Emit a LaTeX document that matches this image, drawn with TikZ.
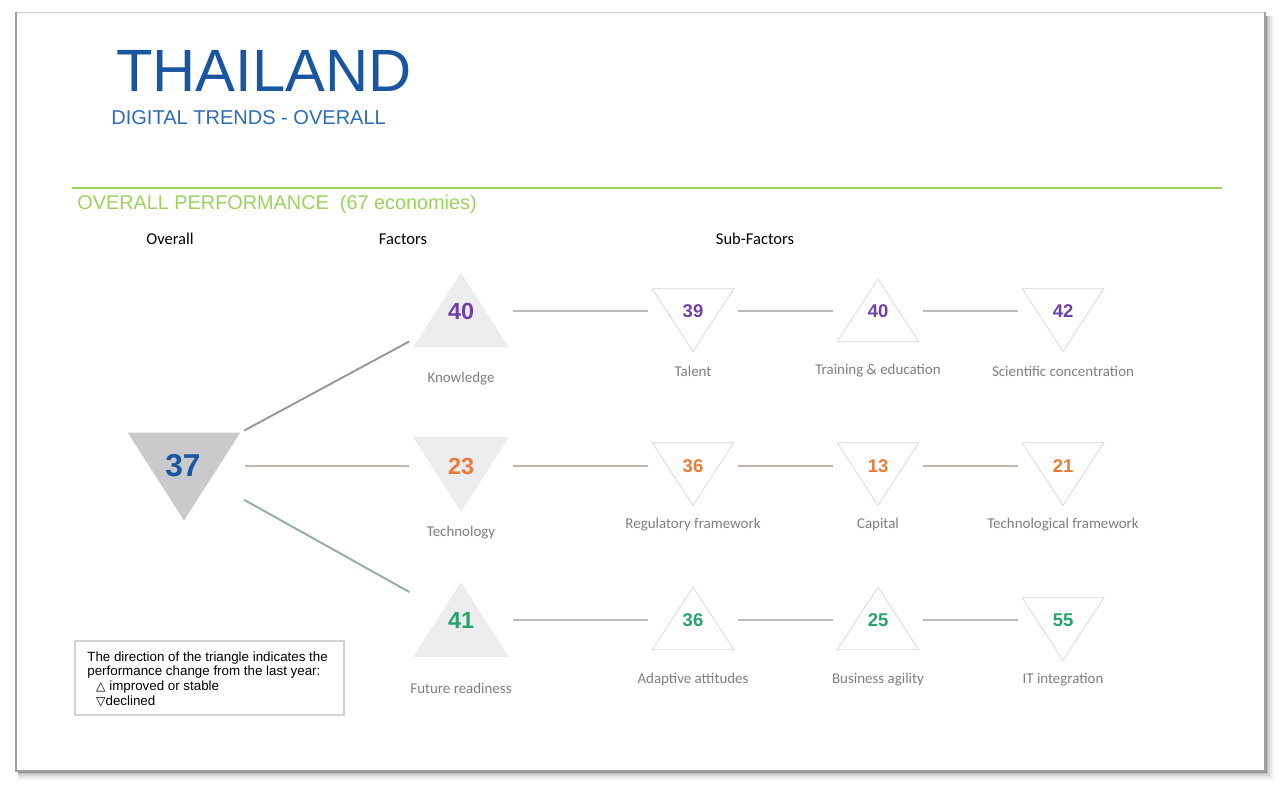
\documentclass[tikz,border=0pt]{standalone}
\usepackage{fontspec}
\setmainfont{Liberation Sans}
\newfontfamily\calfont{Carlito}
\newfontfamily\symfont{DejaVu Sans}
\usepackage{xcolor}
\usepackage{tikz}
\usetikzlibrary{calc}

\definecolor{titleblue}{HTML}{1A56A0}
\definecolor{subblue}{HTML}{2E6CB5}
\definecolor{perfgreen}{HTML}{9CD35E}
\definecolor{knowpurple}{HTML}{7040A8}
\definecolor{techorange}{HTML}{EC7A36}
\definecolor{futgreen}{HTML}{27A36C}
\definecolor{ovfill}{HTML}{CACACC}
\definecolor{facfill}{HTML}{EDEDEF}
\definecolor{subedge}{HTML}{D6D6D6}
\definecolor{lblgray}{HTML}{7F7F7F}
\definecolor{linegray}{HTML}{BDBDBD}
\definecolor{linebrown}{HTML}{C6B3AB}

% triangles drawn inside a named (invisible) box
\newcommand{\uptri}[2]{\path[#2] (#1.north) -- (#1.south east) -- (#1.south west) -- cycle;}
\newcommand{\dntri}[2]{\path[#2] (#1.north west) -- (#1.north east) -- (#1.south) -- cycle;}

\begin{document}
\begin{tikzpicture}[x=0.02cm, y=-0.02cm,
  ovbox/.style={minimum width=2.24cm, minimum height=1.74cm, inner sep=0pt},
  facbox/.style={minimum width=1.9cm, minimum height=1.48cm, inner sep=0pt},
  subbox/.style={minimum width=1.62cm, minimum height=1.24cm, inner sep=0pt},
  bignum/.style={font=\fontsize{18}{20}\selectfont\bfseries, inner sep=0pt},
  facnum/.style={font=\fontsize{13.3}{15}\selectfont\bfseries, inner sep=0pt},
  subnum/.style={font=\fontsize{10.5}{12}\selectfont\bfseries, inner sep=0pt},
  lbl/.style={font=\calfont\fontsize{8.5}{10}\selectfont, text=lblgray, inner sep=0pt},
  head/.style={font=\calfont\fontsize{9.4}{11}\selectfont, inner sep=0pt},
  link/.style={line width=1.1pt, shorten >=2.5, shorten <=2.5}
]
\useasboundingbox (0,0) rectangle (1281,793);

% page and its shadow
\foreach \d/\o in {9/0.04,7/0.06,5/0.08,3/0.12,1.5/0.2}
  \fill[black, opacity=\o] (18,16) rectangle (1265+\d,771+\d);
\fill[white] (16,12) rectangle (1265,771);
\draw[gray!35, line width=0.5pt] (16,12) rectangle (1265,771);
\draw[gray!75, line width=0.9pt] (16,12) -- (16,771) -- (1265,771) -- (1265,12);

% titles
\node[anchor=base west, inner sep=0pt, text=titleblue,
      font=\fontsize{34}{36}\selectfont] (title) at (116,92) {THAILAND};
\node[anchor=base west, inner sep=0pt, text=subblue,
      font=\fontsize{11.4}{13}\selectfont] (subtitle) at (111,125) {DIGITAL TRENDS - OVERALL};
\draw[perfgreen, line width=1pt] (72,188) -- (1222,188);
\node[anchor=base west, inner sep=0pt, text=perfgreen,
      font=\fontsize{11.3}{13}\selectfont] (perf) at (77,210) {OVERALL PERFORMANCE\ \ (67 economies)};

\node[head] (hov) at (170,239) {Overall};
\node[head] (hfac) at (403,239) {Factors};
\node[head] (hsub) at (755,239) {Sub-Factors};

% overall
\node[ovbox] (ov) at (184,476.5) {};
\dntri{ov}{fill=ovfill}
\node[bignum, text=titleblue] (ovN) at (183,466) {37};

% factors
\node[facbox] (know) at (461,310) {};
\uptri{know}{fill=facfill}
\node[facnum, text=knowpurple] (knowN) at (461,311) {40};
\node[lbl] at (461,379) {Knowledge};

\node[facbox] (tech) at (461,474.5) {};
\dntri{tech}{fill=facfill}
\node[facnum, text=techorange] (techN) at (461,466) {23};
\node[lbl] at (461,533) {Technology};

\node[facbox] (fut) at (461,619.5) {};
\uptri{fut}{fill=facfill}
\node[facnum, text=futgreen] (futN) at (461,620) {41};
\node[lbl] at (461,688) {Future readiness};

% sub-factors, knowledge row
\node[subbox] (tal) at (693,320) {};
\dntri{tal}{draw=subedge, fill=white}
\node[subnum, text=knowpurple] (talN) at (693,311) {39};
\node[lbl] at (693,371) {Talent};

\node[subbox] (tra) at (878,310.5) {};
\uptri{tra}{draw=subedge, fill=white}
\node[subnum, text=knowpurple] (traN) at (878,311) {40};
\node[lbl] at (878,371) {Training \& education};

\node[subbox] (sci) at (1063,320) {};
\dntri{sci}{draw=subedge, fill=white}
\node[subnum, text=knowpurple] (sciN) at (1063,311) {42};
\node[lbl] at (1063,371) {Scientific concentration};

% sub-factors, technology row
\node[subbox] (reg) at (693,474) {};
\dntri{reg}{draw=subedge, fill=white}
\node[subnum, text=techorange] (regN) at (693,466) {36};
\node[lbl] at (693,525) {Regulatory framework};

\node[subbox] (cap) at (878,474) {};
\dntri{cap}{draw=subedge, fill=white}
\node[subnum, text=techorange] (capN) at (878,466) {13};
\node[lbl] at (878,525) {Capital};

\node[subbox] (tfr) at (1063,474) {};
\dntri{tfr}{draw=subedge, fill=white}
\node[subnum, text=techorange] (tfrN) at (1063,466) {21};
\node[lbl] at (1063,525) {Technological framework};

% sub-factors, future readiness row
\node[subbox] (ada) at (693,618.5) {};
\uptri{ada}{draw=subedge, fill=white}
\node[subnum, text=futgreen] (adaN) at (693,620) {36};
\node[lbl] at (693,680) {Adaptive attitudes};

\node[subbox] (bus) at (878,618.5) {};
\uptri{bus}{draw=subedge, fill=white}
\node[subnum, text=futgreen] (busN) at (878,620) {25};
\node[lbl] at (878,680) {Business agility};

\node[subbox] (itg) at (1063,629) {};
\dntri{itg}{draw=subedge, fill=white}
\node[subnum, text=futgreen] (itgN) at (1063,620) {55};
\node[lbl] at (1063,680) {IT integration};

% links
\draw[link, color=gray!80] ($(ov.north east)+(0,0)$) -- ($(know.south west)+(0,-8)$);
\draw[link, color=linebrown] (ov.east |- ovN) -- (tech.west |- techN);
\draw[link, color=gray!65!teal!90!black!60] ($(ov.north east)+(0,65)$) -- ($(fut.north west)+(0,12)$);

\draw[link, linegray] (know.east |- knowN) -- (tal.west |- talN);
\draw[link, linegray] (tal.east |- talN) -- (tra.west |- traN);
\draw[link, linegray] (tra.east |- traN) -- (sci.west |- sciN);
\draw[link, linebrown] (tech.east |- techN) -- (reg.west |- regN);
\draw[link, linebrown] (reg.east |- regN) -- (cap.west |- capN);
\draw[link, linebrown] (cap.east |- capN) -- (tfr.west |- tfrN);
\draw[link, linegray] (fut.east |- futN) -- (ada.west |- adaN);
\draw[link, linegray] (ada.east |- adaN) -- (bus.west |- busN);
\draw[link, linegray] (bus.east |- busN) -- (itg.west |- itgN);

% legend
\draw[gray!35, line width=0.6pt] (75,641) rectangle (344,715);
\node[anchor=north west, align=left, inner sep=0pt,
      font=\fontsize{7.6}{8.4}\selectfont] (legend) at (87,651)
  {The direction of the triangle indicates the\\
   performance change from the last year:\\
   \hspace*{5pt}{\symfont\fontsize{7}{8.4}\selectfont △} improved or stable\\
   \hspace*{5pt}{\symfont\fontsize{7}{8.4}\selectfont ▽}declined};
\end{tikzpicture}
\end{document}
